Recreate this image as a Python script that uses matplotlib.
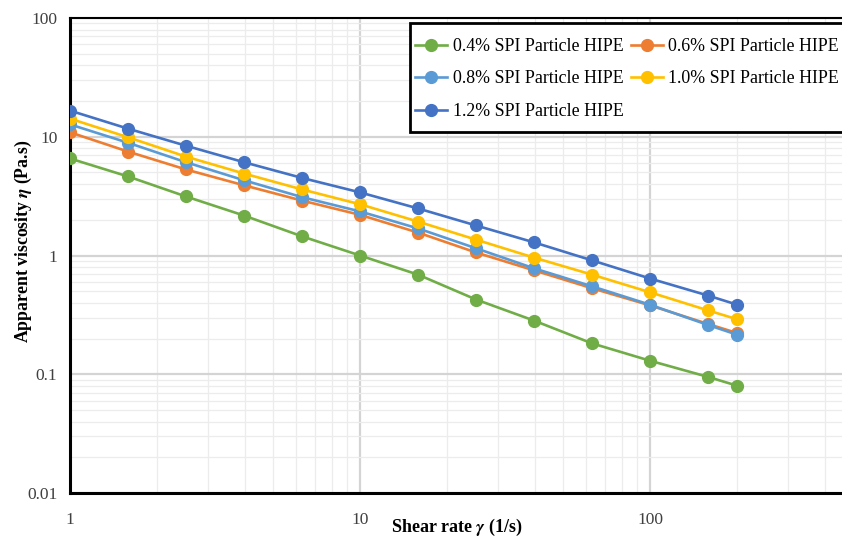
import matplotlib.pyplot as plt
from matplotlib.patches import Rectangle
from matplotlib.ticker import FixedLocator, LogLocator, NullFormatter

# data
shear_rate = [1, 1.585, 2.512, 3.981, 6.31, 10, 15.85, 25.12, 39.81, 63.1, 100, 158.5, 200]
visc_04 = [6.56, 4.63, 3.14, 2.17, 1.45, 1.0, 0.69, 0.426, 0.283, 0.182, 0.13, 0.095, 0.080]
visc_06 = [10.9, 7.5, 5.3, 3.9, 2.9, 2.2, 1.56, 1.06, 0.75, 0.53, 0.38, 0.265, 0.222]
visc_08 = [12.7, 8.9, 6.1, 4.3, 3.1, 2.35, 1.69, 1.15, 0.78, 0.55, 0.385, 0.26, 0.215]
visc_10 = [14.2, 9.9, 6.8, 4.9, 3.6, 2.7, 1.93, 1.36, 0.96, 0.69, 0.49, 0.345, 0.29]
visc_12 = [16.6, 11.7, 8.4, 6.1, 4.5, 3.4, 2.49, 1.79, 1.29, 0.91, 0.64, 0.46, 0.385]

labels = ["0.4% SPI Particle HIPE", "0.6% SPI Particle HIPE", "0.8% SPI Particle HIPE",
          "1.0% SPI Particle HIPE", "1.2% SPI Particle HIPE"]
colors = ["#70AD47", "#ED7D31", "#5B9BD5", "#FFC000", "#4472C4"]
y_ticks = [100, 10, 1, 0.1, 0.01]
y_tick_labels = ["100", "10", "1", "0.1", "0.01"]
x_ticks = [1, 10, 100]

plt.rcParams['font.family'] = ['Liberation Serif', 'DejaVu Serif']
plt.rcParams['mathtext.fontset'] = 'stix'

fig = plt.figure(figsize=(8.42, 5.37), dpi=100)
W, H = 842.0, 537.0
# axes runs past the right edge of the picture (cropped like the original)
ax = fig.add_axes([70 / W, 1 - 493 / H, (940 - 70) / W, (493 - 18) / H])

series = [visc_04, visc_06, visc_08, visc_10, visc_12]
handles = []
for vals, lab, col in zip(series, labels, colors):
    h, = ax.plot(shear_rate, vals, color=col, lw=1.9, marker='o', ms=8.5,
                 label=lab, zorder=3)
    handles.append(h)

ax.set_xscale('log')
ax.set_yscale('log')
ax.set_xlim(1, 1000)
ax.set_ylim(0.01, 100)

ax.xaxis.set_major_locator(FixedLocator(x_ticks))
ax.set_xticklabels([str(v) for v in x_ticks])
ax.yaxis.set_major_locator(FixedLocator(y_ticks))
ax.set_yticklabels(y_tick_labels)
ax.xaxis.set_minor_locator(LogLocator(base=10, subs=range(2, 10)))
ax.yaxis.set_minor_locator(LogLocator(base=10, subs=range(2, 10)))
ax.xaxis.set_minor_formatter(NullFormatter())
ax.yaxis.set_minor_formatter(NullFormatter())

ax.tick_params(which='both', length=0)
ax.tick_params(axis='x', pad=14, labelsize=12.5, labelcolor='#404040')
ax.tick_params(axis='y', pad=9, labelsize=12.5, labelcolor='#404040')

ax.grid(which='major', color='#d4d4d4', lw=1.6)
ax.grid(which='minor', color='#ececec', lw=0.9)
ax.set_axisbelow(True)

for s in ['left', 'bottom']:
    ax.spines[s].set_linewidth(2.2)
ax.spines['top'].set_linewidth(1.5)
for s in ax.spines.values():
    s.set_color('black')

ax.set_xlabel(r"Shear rate $\boldsymbol{\gamma}$ (1/s)", fontsize=13, fontweight='bold')
ax.xaxis.set_label_coords(0.445, -0.05)
ax.set_ylabel(r"Apparent viscosity $\boldsymbol{\eta}$ (Pa.s)", fontsize=12.8, fontweight='bold')
ax.yaxis.set_label_coords(-0.041, 0.53)

# legend frame drawn separately (box runs off the right edge)
box = Rectangle((410 / W, 1 - 132 / H), (860 - 410) / W, (132 - 23) / H,
                transform=fig.transFigure, facecolor='white', edgecolor='black',
                lw=2, zorder=5)
fig.patches.append(box)

# row-major order like the original legend
order = [0, 2, 4, 1, 3]
leg = fig.legend([handles[i] for i in order], [labels[i] for i in order],
                 ncol=2, loc='upper left', bbox_to_anchor=(415 / W, 1 - 38 / H),
                 fontsize=12.9, frameon=False,
                 handlelength=1.8, handletextpad=0.3, columnspacing=0.4,
                 labelspacing=0.86, borderpad=0, borderaxespad=0)
leg.set_zorder(6)

fig.savefig("out.png", dpi=100)
